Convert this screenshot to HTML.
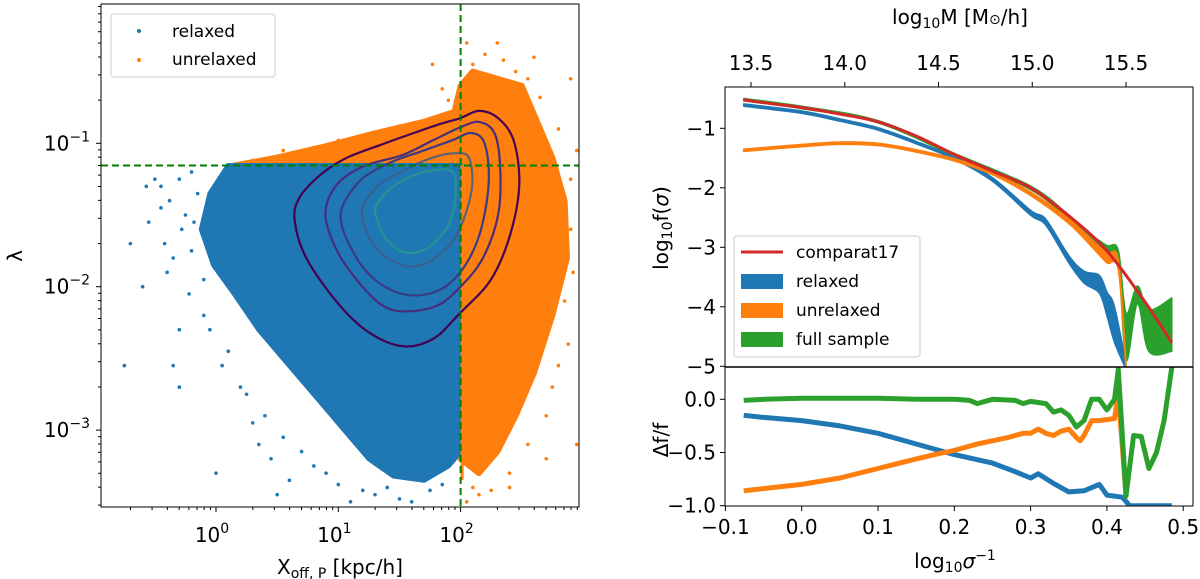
<!DOCTYPE html>
<html><head><meta charset="utf-8"><style>
body{margin:0;background:#fff;}
svg{display:block;font-family:"DejaVu Sans","Liberation Sans",sans-serif;}
</style></head><body>
<svg id="fig" width="1200" height="579" viewBox="0 0 1200 579" xmlns="http://www.w3.org/2000/svg"></svg>
<script>
// ---------- LEFT PANEL DATA (log10 X, log10 lambda) ----------
const blueEnvX=[0.1,-0.05,-0.12,-0.02,0.15,0.35,0.6,0.85,1.05,1.25,1.45,1.7,1.9,2.0,2.0];
const blueEnvY=[-1.155,-1.35,-1.6,-1.85,-2.05,-2.3,-2.55,-2.8,-3.0,-3.2,-3.32,-3.35,-3.25,-3.15,-1.155];
const orangeEnvX=[0.15,0.5,0.9,1.3,1.7,1.95,2.0,2.1,2.3,2.5,2.6,2.75,2.85,2.87,2.75,2.6,2.45,2.3,2.15,2.0,2.0];
const orangeEnvY=[-1.155,-1.1,-1.02,-0.93,-0.85,-0.78,-0.6,-0.5,-0.55,-0.6,-0.8,-1.1,-1.4,-1.8,-2.2,-2.6,-2.9,-3.15,-3.3,-3.2,-1.155];
const blueOutX=[-0.7,-0.75,-0.57,-0.55,-0.35,-0.3,-0.2,-0.35,-0.3,0.0,0.5,0.35,1.1,1.3,1.6,0.8,-0.1,-0.45,-0.4,0.2,-0.6,-0.25,0.1,0.6,-0.5,-0.45,-0.38,-0.28,-0.2,-0.15,-0.1,-0.22,-0.05,0.05,0.25,0.4,0.55,0.7,0.9,1.0,1.2,1.4,1.5,1.75,1.85,0.45,0.3,-0.3,-0.42,-0.18];
const blueOutY=[-1.7,-2.55,-1.3,-1.55,-1.8,-2.3,-1.2,-2.55,-2.7,-3.3,-3.45,-3.1,-3.5,-3.45,-3.5,-3.25,-2.2,-1.3,-1.9,-2.7,-2.0,-1.5,-2.45,-3.35,-1.25,-1.45,-1.4,-1.6,-1.75,-1.35,-1.95,-2.05,-2.3,-2.55,-2.75,-2.9,-3.05,-3.15,-3.3,-3.38,-3.42,-3.4,-3.48,-3.42,-3.38,-3.2,-2.95,-1.25,-1.7,-1.55];
const orangeOutX=[2.9,2.95,2.95,2.7,2.4,2.15,2.05,2.1,1.77,2.3,2.45,2.75,2.85,0.3,1.0,2.6,2.2,2.9,0.8,1.5,1.85,1.9,2.2,2.35,2.55,2.65,2.8,2.9,2.92,2.88,2.8,2.7,2.55,2.4,2.25,2.1,2.05,0.55,0.65,1.2];
const orangeOutY=[-0.55,-1.05,-3.1,-3.2,-3.4,-3.45,-0.3,-0.45,-0.45,-0.3,-0.5,-2.7,-2.1,-1.12,-0.98,-0.4,-3.55,-1.6,-1.03,-0.88,-0.62,-0.7,-0.38,-0.42,-0.55,-0.68,-0.9,-1.25,-1.9,-2.4,-2.55,-2.9,-3.1,-3.3,-3.42,-3.4,-3.5,-1.05,-1.08,-0.95];
const c1X=[0.644,0.738,0.989,1.240,1.523,1.774,1.994,2.245,2.402,2.480,2.433,2.308,2.151,1.994,1.837,1.617,1.366,1.052,0.832,0.675];
const c1Y=[-1.544,-1.8,-2.108,-2.313,-2.415,-2.364,-2.185,-1.954,-1.646,-1.287,-0.979,-0.826,-0.774,-0.826,-0.864,-0.928,-1.005,-1.108,-1.236,-1.390];
const c2X=[0.895,0.989,1.177,1.366,1.554,1.805,1.994,2.182,2.308,2.323,2.276,2.151,1.994,1.774,1.523,1.209,0.989];
const c2Y=[-1.492,-1.749,-1.979,-2.133,-2.172,-2.133,-2.005,-1.8,-1.492,-1.159,-0.928,-0.851,-0.890,-0.979,-1.082,-1.159,-1.287];
const c3X=[1.020,1.115,1.303,1.554,1.805,1.994,2.151,2.229,2.198,2.088,1.931,1.680,1.429,1.177];
const c3Y=[-1.492,-1.749,-1.954,-2.056,-2.031,-1.903,-1.646,-1.287,-1.005,-0.928,-0.979,-1.056,-1.133,-1.262];
const c4X=[1.193,1.303,1.523,1.743,1.962,2.088,2.072,1.962,1.743,1.491,1.303];
const c4Y=[-1.492,-1.723,-1.851,-1.826,-1.646,-1.338,-1.108,-1.069,-1.108,-1.210,-1.313];
const c5X=[1.303,1.397,1.554,1.743,1.915,1.962,1.931,1.805,1.617,1.429,1.334];
const c5Y=[-1.492,-1.672,-1.762,-1.723,-1.544,-1.313,-1.197,-1.185,-1.223,-1.313,-1.403];
const xTickExp=[0,1,2];
const yTickExp=[-1,-2,-3];
const lambdaCut=0.07, xoffCut=100;

// ---------- RIGHT PANEL DATA ----------
const redX=[-0.076,-0.05,0,0.05,0.1,0.15,0.2,0.25,0.3,0.35,0.4,0.45,0.485];
const redY=[-0.52,-0.57,-0.65,-0.76,-0.89,-1.13,-1.44,-1.72,-2.0,-2.47,-3.06,-3.92,-4.6];
const relX=[-0.076,0,0.05,0.1,0.15,0.2,0.25,0.3,0.32,0.35,0.37,0.39,0.4,0.41,0.425];
const relMid=[-0.61,-0.73,-0.86,-1.01,-1.24,-1.5,-1.86,-2.42,-2.58,-3.2,-3.5,-3.62,-3.95,-4.3,-5.0];
const relHw=[0.02,0.02,0.02,0.02,0.02,0.02,0.03,0.04,0.05,0.06,0.1,0.15,0.2,0.3,0.05];
const unrX=[-0.076,0,0.05,0.1,0.15,0.2,0.25,0.3,0.35,0.38,0.4,0.415,0.425];
const unrMid=[-1.37,-1.29,-1.25,-1.27,-1.38,-1.53,-1.76,-2.1,-2.56,-2.93,-3.18,-3.3,-5.0];
const unrHw=[0.02,0.02,0.02,0.02,0.02,0.02,0.02,0.03,0.04,0.06,0.08,0.08,0.05];
const fullX=[-0.076,0,0.1,0.2,0.3,0.35,0.38,0.4,0.415,0.425,0.44,0.455,0.485];
const fullMid=[-0.52,-0.65,-0.89,-1.44,-2.0,-2.5,-2.85,-3.05,-3.15,-4.5,-3.8,-4.4,-4.3];
const fullHw=[0.02,0.02,0.02,0.02,0.03,0.04,0.06,0.08,0.1,0.4,0.15,0.35,0.45];
const dGreenX=[-0.076,-0.05,0,0.05,0.1,0.15,0.2,0.22,0.23,0.25,0.28,0.29,0.3,0.32,0.33,0.34,0.35,0.36,0.37,0.38,0.39,0.4,0.41,0.415,0.425,0.435,0.445,0.455,0.465,0.475,0.485];
const dGreenY=[-0.01,0,0.01,0.01,0.01,0,0,-0.01,-0.04,0,-0.01,-0.04,-0.02,-0.04,-0.12,-0.1,-0.15,-0.26,-0.2,0,0,-0.1,0,0.28,-0.91,-0.34,-0.35,-0.65,-0.5,-0.2,0.3];
const dOrX=[-0.076,0,0.05,0.1,0.15,0.18,0.2,0.22,0.23,0.25,0.27,0.29,0.3,0.31,0.32,0.33,0.34,0.35,0.36,0.365,0.37,0.38,0.39,0.41,0.415,0.425];
const dOrY=[-0.86,-0.8,-0.74,-0.65,-0.56,-0.51,-0.48,-0.44,-0.42,-0.39,-0.36,-0.32,-0.32,-0.28,-0.32,-0.34,-0.3,-0.28,-0.36,-0.39,-0.34,-0.2,-0.2,-0.18,0.05,-0.9];
const dBlX=[-0.076,-0.05,0,0.05,0.1,0.15,0.2,0.25,0.28,0.3,0.31,0.33,0.35,0.37,0.39,0.4,0.42,0.43,0.485];
const dBlY=[-0.15,-0.17,-0.2,-0.25,-0.32,-0.42,-0.52,-0.6,-0.68,-0.74,-0.7,-0.79,-0.87,-0.86,-0.8,-0.9,-0.92,-1.0,-1.0];
const bottomXTicks=[-0.1,0.0,0.1,0.2,0.3,0.4,0.5];
const topYTicks=[-1,-2,-3,-4,-5];
const lowYTicks=[0.0,-0.5,-1.0];
const massTicks=[13.5,14.0,14.5,15.0,15.5];

const NS="http://www.w3.org/2000/svg";
const svg=document.getElementById('fig');
function el(tag,attrs,parent){const e=document.createElementNS(NS,tag);for(const k in attrs)e.setAttribute(k,attrs[k]);(parent||svg).appendChild(e);return e;}
const BLUE="#1f77b4",ORANGE="#ff7f0e",GREEN="#2ca02c",RED="#d62728";
const FS=20;

// ---- left axes functions
const LX0=101,LX1=579,LY0=4,LY1=507;
const lx=v=>216+v*122.3;
const ly=v=>143.3-(v+1)*143.4;
el('defs',{}).innerHTML='<clipPath id="cl"><rect x="101" y="4" width="478" height="503"/></clipPath><clipPath id="cr1"><rect x="725" y="87" width="468" height="280"/></clipPath><clipPath id="cr2"><rect x="725" y="367" width="468" height="139"/></clipPath>';
const gL=el('g',{'clip-path':'url(#cl)'});


function poly(xs,ys,fx,fy){return xs.map((x,i)=>fx(x).toFixed(1)+','+fy(ys[i]).toFixed(1)).join(' ');}
function smooth(pts,closed){
 let dd='M'+pts[0][0]+','+pts[0][1];const n=pts.length;
 const last=closed?n:n-1;
 for(let j=0;j<last;j++){
  const g=k=>closed?pts[(k+n)%n]:pts[Math.max(0,Math.min(n-1,k))];
  const p0=g(j-1),p1=g(j),p2=g(j+1),p3=g(j+2);
  dd+=` C${(p1[0]+(p2[0]-p0[0])/6).toFixed(1)},${(p1[1]+(p2[1]-p0[1])/6).toFixed(1)} ${(p2[0]-(p3[0]-p1[0])/6).toFixed(1)},${(p2[1]-(p3[1]-p1[1])/6).toFixed(1)} ${p2[0].toFixed(1)},${p2[1].toFixed(1)}`;}
 return dd+(closed?'Z':'');}
let p=el('polygon',{points:poly(orangeEnvX,orangeEnvY,lx,ly),fill:ORANGE,stroke:ORANGE,'stroke-width':6,'stroke-linejoin':'round'},gL);


orangeOutX.forEach((x,i)=>{const c=el('circle',{cx:lx(x),cy:ly(orangeOutY[i]),r:1.8,fill:ORANGE},gL);

});
p=el('polygon',{points:poly(blueEnvX,blueEnvY,lx,ly),fill:BLUE,stroke:BLUE,'stroke-width':5,'stroke-linejoin':'round'},gL);


el('rect',{x:lx(2),y:ly(-1.155)-0.5,width:3,height:ly(-3.35)-ly(-1.155),fill:ORANGE},gL);
blueOutX.forEach((x,i)=>{const c=el('circle',{cx:lx(x),cy:ly(blueOutY[i]),r:1.8,fill:BLUE},gL);

});
const cols=["#440154","#472d7b","#3b3b83","#3e5c8a","#25998a"];
[[c1X,c1Y],[c2X,c2Y],[c3X,c3Y],[c4X,c4Y],[c5X,c5Y]].forEach((c,i)=>{
 const pts=c[0].map((x,j)=>[lx(x),ly(c[1][j])]);
 const e=el('path',{d:smooth(pts,true),fill:'none',stroke:cols[i],'stroke-width':2.2,opacity:i>2?0.85:1},gL);
 
 
});
let hl=el('line',{x1:LX0,x2:LX1,y1:ly(Math.log10(lambdaCut)),y2:ly(Math.log10(lambdaCut)),stroke:'#007f00','stroke-width':2,'stroke-dasharray':'7,4'});


let vl=el('line',{x1:lx(Math.log10(xoffCut)),x2:lx(Math.log10(xoffCut)),y1:LY0,y2:LY1,stroke:'#007f00','stroke-width':2,'stroke-dasharray':'7,4'});


el('rect',{x:LX0,y:LY0,width:LX1-LX0,height:LY1-LY0,fill:'none',stroke:'#000','stroke-width':1});
for(let e=-1;e<=2;e++)for(let m=1;m<10;m++){const x=lx(e+Math.log10(m));if(x<LX0||x>LX1)continue;el('line',{x1:x,x2:x,y1:LY1,y2:LY1+(m===1?5:3),stroke:'#000','stroke-width':1});}
for(let e=-4;e<=0;e++)for(let m=1;m<10;m++){const y=ly(e+Math.log10(m));if(y<LY0||y>LY1)continue;el('line',{x1:LX0,x2:LX0-(m===1?5:3),y1:y,y2:y,stroke:'#000','stroke-width':1});}
xTickExp.forEach(e=>{const t=el('text',{x:lx(e)-4,y:542,'font-size':FS,'text-anchor':'middle'});t.innerHTML='10<tspan dy="-9" font-size="14">'+e+'</tspan>';

});
yTickExp.forEach(e=>{const t=el('text',{x:90,y:ly(e)+7,'font-size':FS,'text-anchor':'end'});t.innerHTML='10<tspan dy="-9" font-size="14">−'+(-e)+'</tspan>';

});
let t=el('text',{x:340,y:574,'font-size':FS,'text-anchor':'middle'});t.innerHTML='X<tspan dy="4" font-size="14">off, P</tspan><tspan dy="-4"> [kpc/h]</tspan>';


t=el('text',{x:0,y:0,'font-size':FS,'text-anchor':'middle',transform:'translate(22,256) rotate(-90)'});t.textContent='λ';


let lg=el('g',{});


el('rect',{x:111,y:14,width:164,height:63,rx:3,fill:'#fff','fill-opacity':0.8,stroke:'#ccc'},lg);
el('circle',{cx:139,cy:31,r:2,fill:BLUE},lg);el('circle',{cx:139,cy:60,r:2,fill:ORANGE},lg);
t=el('text',{x:172,y:37,'font-size':17},lg);t.textContent='relaxed';


t=el('text',{x:172,y:65,'font-size':17},lg);t.textContent='unrelaxed';



// ---- right panel
const RX0=725,RX1=1193,RT=87,RM=367,RB=506;
const rx=v=>801.7+v*763;
const ry1=v=>128.3-(v+1)*59.5;
const ry2=v=>399.3-v*106.4;
const mx=v=>751+(v-13.5)*187.5;
const g1=el('g',{'clip-path':'url(#cr1)'});


function band(xs,mid,hw,col,name){
 const top=xs.map((x,i)=>[rx(x),ry1(mid[i]+hw[i])]);
 const bot=xs.map((x,i)=>[rx(x),ry1(mid[i]-hw[i])]).reverse();
 const dTop=smooth(top,false);
 const dBot=smooth(bot,false).replace(/^M/,'L');
 const e=el('path',{d:dTop+' '+dBot+'Z',fill:col,stroke:col,'stroke-width':1.5,'stroke-linejoin':'round'},g1);
 
 }
band(relX,relMid,relHw,BLUE,'relaxed-band');
band(fullX,fullMid,fullHw,GREEN,'full-sample-band');
band(unrX,unrMid,unrHw,ORANGE,'unrelaxed-band');
let pl=el('path',{d:smooth(redX.map((x,i)=>[rx(x),ry1(redY[i])]),false),fill:'none',stroke:RED,'stroke-width':3,'stroke-linejoin':'round'},g1);


const g2=el('g',{'clip-path':'url(#cr2)'});


[[dBlX,dBlY,BLUE,'relaxed-residual'],[dOrX,dOrY,ORANGE,'unrelaxed-residual'],[dGreenX,dGreenY,GREEN,'full-sample-residual']].forEach(s=>{
 const e=el('polyline',{points:poly(s[0],s[1],rx,ry2),fill:'none',stroke:s[2],'stroke-width':5,'stroke-linejoin':'round'},g2);
 
 });
el('rect',{x:RX0,y:RT,width:RX1-RX0,height:RB-RT,fill:'none',stroke:'#000','stroke-width':1});
el('line',{x1:RX0,x2:RX1,y1:RM,y2:RM,stroke:'#000','stroke-width':1.5});
bottomXTicks.forEach(v=>{const x=rx(v);el('line',{x1:x,x2:x,y1:RB,y2:RB+5,stroke:'#000'});const tt=el('text',{x:x,y:534,'font-size':FS,'text-anchor':'middle'});tt.textContent=(v<0?'−':'')+Math.abs(v).toFixed(1);

});
topYTicks.forEach(v=>{const y=ry1(v);el('line',{x1:RX0,x2:RX0-5,y1:y,y2:y,stroke:'#000'});const tt=el('text',{x:716,y:y+7,'font-size':FS,'text-anchor':'end'});tt.textContent='−'+(-v);

});
lowYTicks.forEach(v=>{const y=ry2(v);el('line',{x1:RX0,x2:RX0-5,y1:y,y2:y,stroke:'#000'});const tt=el('text',{x:716,y:y+7,'font-size':FS,'text-anchor':'end'});tt.textContent=(v<0?'−':'')+Math.abs(v).toFixed(1);

});
massTicks.forEach(v=>{const x=mx(v);el('line',{x1:x,x2:x,y1:RT,y2:RT-5,stroke:'#000'});const tt=el('text',{x:x,y:70,'font-size':FS,'text-anchor':'middle'});tt.textContent=v.toFixed(1);

});
t=el('text',{x:960,y:24,'font-size':FS,'text-anchor':'middle'});t.innerHTML='log<tspan dy="4" font-size="14">10</tspan><tspan dy="-4">M [M</tspan><tspan font-size="14">⊙</tspan>/h]';


t=el('text',{x:955,y:568,'font-size':FS,'text-anchor':'middle'});t.innerHTML='log<tspan dy="4" font-size="14">10</tspan><tspan dy="-4" font-style="italic">σ</tspan><tspan dy="-8" font-size="14">−1</tspan>';


t=el('text',{x:0,y:0,'font-size':FS,'text-anchor':'middle',transform:'translate(668,228) rotate(-90)'});t.innerHTML='log<tspan dy="4" font-size="14">10</tspan><tspan dy="-4">f(</tspan><tspan font-style="italic">σ</tspan>)';


t=el('text',{x:0,y:0,'font-size':FS,'text-anchor':'middle',transform:'translate(668,440) rotate(-90)'});t.textContent='Δf/f';


lg=el('g',{});


el('rect',{x:734,y:236,width:186,height:121,rx:3,fill:'#fff','fill-opacity':0.8,stroke:'#ccc'},lg);
el('line',{x1:741,x2:783,y1:252,y2:252,stroke:RED,'stroke-width':3},lg);
el('rect',{x:741,y:274,width:42,height:15,fill:BLUE},lg);
el('rect',{x:741,y:303,width:42,height:15,fill:ORANGE},lg);
el('rect',{x:741,y:332,width:42,height:15,fill:GREEN},lg);
[['comparat17',258],['relaxed',287],['unrelaxed',316],['full sample',345]].forEach(a=>{const tt=el('text',{x:796,y:a[1],'font-size':17},lg);tt.textContent=a[0];

});
</script>
</body></html>
